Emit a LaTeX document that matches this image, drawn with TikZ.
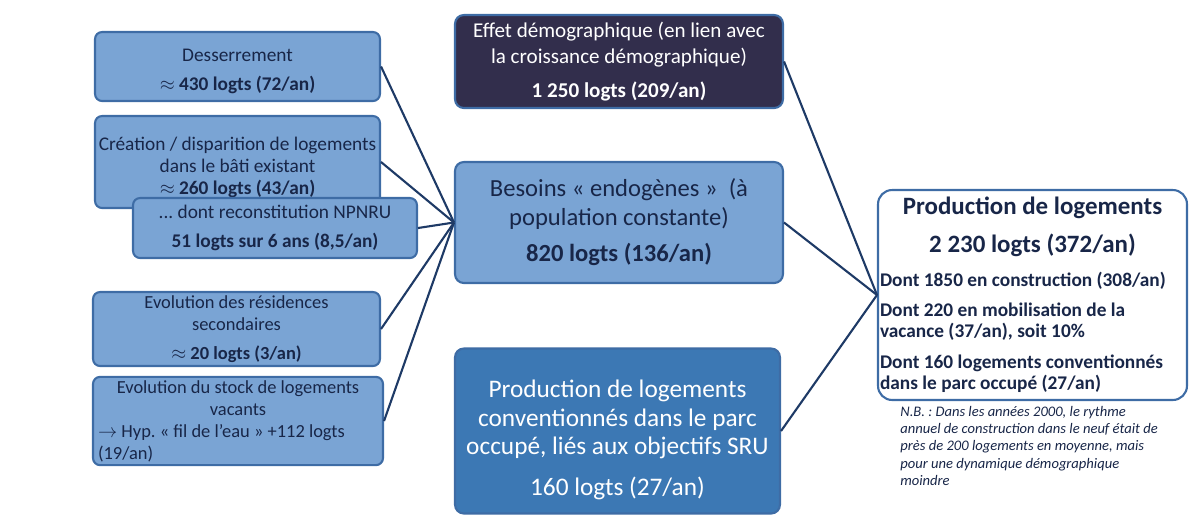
\documentclass[tikz,border=0pt]{standalone}
\usepackage{fontspec}
\setmainfont{Carlito}
\usepackage{tikz}
\usetikzlibrary{positioning}

\definecolor{boxblue}{RGB}{122,164,212}
\definecolor{edgeblue}{RGB}{62,108,165}
\definecolor{darkbox}{RGB}{50,46,76}
\definecolor{midblue}{RGB}{60,120,180}
\definecolor{txtnavy}{RGB}{24,38,72}
\definecolor{linenavy}{RGB}{30,58,102}
\frenchspacing

\begin{document}
\begin{tikzpicture}[x=0.02cm,y=-0.02cm,
  lbox/.style={draw=edgeblue,fill=boxblue,line width=1.2pt,rounded corners=4pt,text=txtnavy,align=center,inner sep=2pt,font=\fontsize{11}{12.5}\selectfont},
  mbox/.style={draw=edgeblue,fill=boxblue,line width=1.2pt,rounded corners=5pt,text=txtnavy,align=center,inner sep=2pt,font=\fontsize{14}{16}\selectfont},
  pbox/.style={draw=edgeblue,fill=white,line width=1.2pt,rounded corners=8pt,text=txtnavy,align=flush left,inner sep=1pt,font=\bfseries\fontsize{11}{12}\selectfont},
  con/.style={draw=linenavy,line width=1.2pt}]
  \useasboundingbox (0,0) rectangle (1191,515);

  % left column
  \node[lbox,minimum width=5.7cm,minimum height=1.38cm] (l1) at (237.5,66.5) {\rule{0pt}{13pt}Desserrement\\[4pt] \textbf{$\approx$ 430 logts (72/an)}};
  \node[lbox,minimum width=5.7cm,minimum height=1.84cm] (l2) at (237.5,162) {\rule{0pt}{14pt}Création / disparition de logements\\ dans le bâti existant\\ \textbf{$\approx$ 260 logts (43/an)}};
  \node[lbox,minimum width=5.68cm,minimum height=1.2cm] (l3) at (275,228) {... dont reconstitution NPNRU\\[4pt] \textbf{51 logts sur 6 ans (8,5/an)}};
  \node[lbox,font=\fontsize{10.5}{12.5}\selectfont,minimum width=5.74cm,minimum height=1.48cm] (l4) at (236.5,329) {Evolution des résidences\\ secondaires\\[4pt] \textbf{$\approx$ 20 logts (3/an)}};
  \node[lbox,font=\fontsize{10.5}{12.5}\selectfont,minimum width=5.8cm,minimum height=1.76cm,text width=5.6cm,align=flush left] (l5) at (238,421) {{\centering Evolution du stock de logements\\ vacants\par}$\rightarrow$ Hyp. « fil de l’eau » +112 logts\\ (19/an)};

  % middle column
  \node[mbox,fill=darkbox,text=white,font=\fontsize{12}{14.5}\selectfont,minimum width=6.56cm,minimum height=1.86cm] (m1) at (619,61.5) {Effet démographique (en lien avec\\ la croissance démographique)\\[5pt] \textbf{1 250 logts (209/an)}};
  \node[mbox,minimum width=6.56cm,minimum height=2.42cm] (m2) at (619,222.5) {Besoins « endogènes »~ (à\\ population constante)\\[5pt] \textbf{820 logts (136/an)}};
  \node[mbox,fill=midblue,text=white,font=\fontsize{14.4}{16.2}\selectfont,minimum width=6.5cm,minimum height=3.3cm] (m3) at (617.5,431) {\rule{0pt}{20pt}Production de logements\\ conventionnés dans le parc\\ occupé, liés aux objectifs SRU\\[7pt] 160 logts (27/an)};

  % right
  \node[pbox,minimum width=6.18cm,minimum height=4.2cm,text width=6.1cm] (p) at (1032.5,295) {{\centering\fontsize{14.2}{21.5}\selectfont Production de logements\\ 2 230 logts (372/an)\par}\vspace{7pt}Dont 1850 en construction (308/an)\par\vspace{5.5pt}Dont 220 en mobilisation de la\\ vacance (37/an), soit 10\%\par\vspace{5.5pt}Dont 160 logements conventionnés\\ dans le parc occupé (27/an)};
  \node[anchor=north west,align=left,inner sep=0pt,text=txtnavy,font=\itshape\fontsize{8.3}{9.8}\selectfont] (nb) at (900,406) {N.B. : Dans les années 2000, le rythme\\ annuel de construction dans le neuf était de\\ près de 200 logements en moyenne, mais\\ pour une dynamique démographique\\ moindre};

  \draw[con] (l1.east) -- (m2.west);
  \draw[con] (l2.east) -- (m2.west);
  \draw[con] (l3.east) -- (m2.west);
  \draw[con] (l4.east) -- (m2.west);
  \draw[con] (l5.east) -- (m2.west);
  \draw[con] (m1.east) -- (p.west);
  \draw[con] (m2.east) -- (p.west);
  \draw[con] (m3.east) -- (p.west);
\end{tikzpicture}
\end{document}
